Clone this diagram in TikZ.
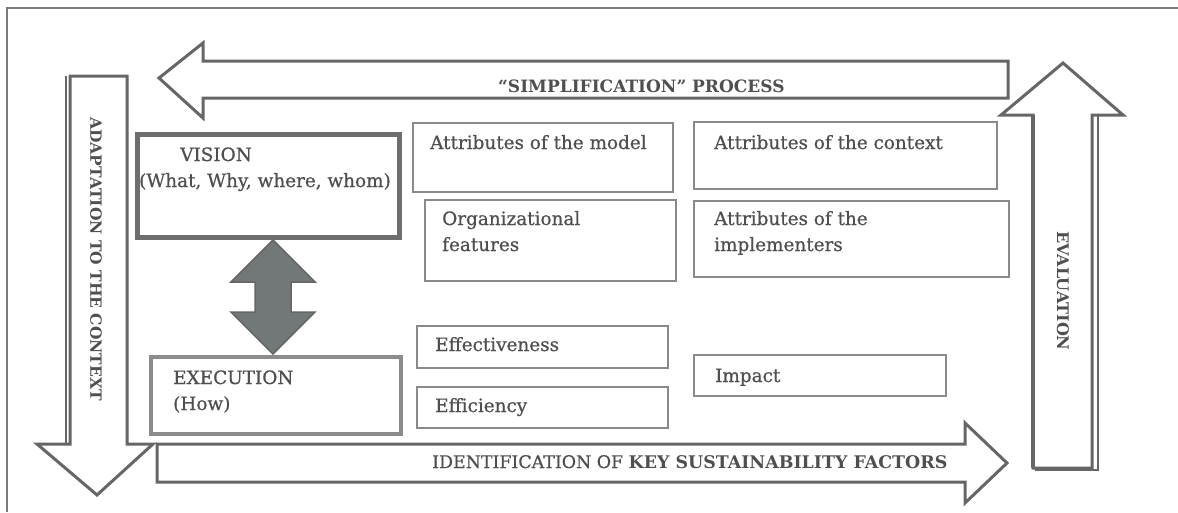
\documentclass[tikz,border=0pt]{standalone}
\usepackage{fontspec}
\setmainfont{DejaVu Serif}
\newfontfamily\medserif{DejaVu Serif}[FakeBold=0.6]
\usetikzlibrary{fit}
\definecolor{framegray}{HTML}{7A7A7A}
\definecolor{arrowgray}{HTML}{666666}
\definecolor{boxgray}{HTML}{8A8A8A}
\definecolor{visiongray}{HTML}{6E6E6E}
\definecolor{execgray}{HTML}{8C8C8C}
\definecolor{textgray}{HTML}{4F4F4F}
\definecolor{fillgray}{HTML}{727777}
\tikzset{
  txt/.style={text=textgray, inner sep=0pt, font=\medserif\fontsize{18.4}{26}\selectfont},
  boldtxt/.style={text=textgray, inner sep=0pt, font=\bfseries\fontsize{17}{26}\selectfont},
  thinbox/.style={draw=boxgray, line width=1.5pt, inner sep=0pt},
  visionbox/.style={draw=visiongray, line width=5pt, inner sep=0pt},
  execbox/.style={draw=execgray, line width=4pt, inner sep=0pt},
  bigarrow/.style={draw=arrowgray, line width=3pt, line join=miter, fill=white},
  dblarrow/.style={draw=arrowgray, line width=1.5pt, fill=fillgray, line join=miter},
}
\begin{document}
\begin{tikzpicture}[x=1pt,y=-1pt]
\useasboundingbox (0,0) rectangle (1178,512);
\fill[white] (0,0) rectangle (1178,512);
% frame
\draw[framegray, line width=1.2pt] (7,512) -- (7,8) -- (1178,8);

% top arrow: "SIMPLIFICATION" PROCESS
\draw[bigarrow] (1008,61) -- (203,61) -- (203,43) -- (159,78) -- (203,118) -- (203,98) -- (1008,98) -- cycle;
\node[boldtxt, anchor=base west] (simpl) at (498,92) {“SIMPLIFICATION” PROCESS};

% right up arrow: EVALUATION
\draw[arrowgray, line width=2pt] (1098,115) -- (1098,470) -- (1035,470);
\draw[bigarrow] (1033,468) -- (1033,115) -- (1001,115) -- (1063,63) -- (1123,115) -- (1092,115) -- (1092,468) -- cycle;
\draw[arrowgray, line width=4pt] (1033,115) -- (1033,468);
\node[boldtxt, font=\bfseries\fontsize{16}{26}\selectfont, rotate=-90] (evaltxt) at (1063,291) {EVALUATION};

% left down arrow: ADAPTATION TO THE CONTEXT
\draw[arrowgray, line width=2.5pt] (66,76) -- (66,444);
\draw[bigarrow] (70,76) -- (127,76) -- (127,444) -- (153,444) -- (97,495) -- (37,444) -- (70,444) -- cycle;
\node[boldtxt, font=\bfseries\fontsize{15.5}{26}\selectfont, rotate=-90] (adapttxt) at (96,259) {ADAPTATION TO THE CONTEXT};

% bottom right arrow: IDENTIFICATION OF KEY SUSTAINABILITY FACTORS
\draw[bigarrow] (157,444) -- (965,444) -- (965,423) -- (1007,463) -- (965,503) -- (965,482) -- (157,482) -- cycle;
\node[txt, font=\medserif\fontsize{17.4}{26}\selectfont, anchor=base west] (identtxt) at (432,468) {IDENTIFICATION OF {\normalfont\bfseries KEY SUSTAINABILITY FACTORS}};

% VISION / EXECUTION
\node[visionbox, fit={(137.5,134) (399.5,237)}] (vision) {};
\node[txt, anchor=base west] (visiontxt) at (180,161) {VISION};
\node[txt, anchor=base west] (visionsub) at (139,187) {(What, Why, where, whom)};

\node[execbox, fit={(151,357) (401,434)}] (execution) {};
\node[txt, anchor=base west] (exectxt) at (173,384) {EXECUTION};
\node[txt, anchor=base west] (exectxtb) at (173,410) {(How)};

% double arrow between vision and execution
\coordinate (dtop) at (273,240);
\coordinate (dbot) at (273,354);
\draw[dblarrow] (dtop) -- (315,282) -- (291,282) -- (291,312) -- (315,312) -- (dbot) -- (231,312) -- (255,312) -- (255,282) -- (231,282) -- cycle;

% attribute boxes
\node[thinbox, fit={(413,123) (673,192)}] (model) {};
\node[txt, anchor=base west] (modeltxt) at (430,149) {Attributes of the model};
\node[thinbox, fit={(425,200) (676,281)}] (org) {};
\node[txt, anchor=base west] (orgtxt) at (442,225) {Organizational};
\node[txt, anchor=base west] (orgtxtb) at (442,251) {features};
\node[thinbox, fit={(694,122) (997,189)}] (context) {};
\node[txt, anchor=base west] (contexttxt) at (714,149) {Attributes of the context};
\node[thinbox, fit={(694,201) (1009,277)}] (impl) {};
\node[txt, anchor=base west] (impltxt) at (714,225) {Attributes of the};
\node[txt, anchor=base west] (impltxtb) at (714,251) {implementers};

% result boxes
\node[thinbox, fit={(417,326) (668,368)}] (effect) {};
\node[txt, anchor=base west] (effecttxt) at (435,351) {Effectiveness};
\node[thinbox, fit={(417,387) (668,428)}] (effic) {};
\node[txt, anchor=base west] (effictxt) at (435,412) {Efficiency};
\node[thinbox, fit={(694,355) (946,396)}] (impact) {};
\node[txt, anchor=base west] (impacttxt) at (715,382) {Impact};
\end{tikzpicture}
\end{document}
